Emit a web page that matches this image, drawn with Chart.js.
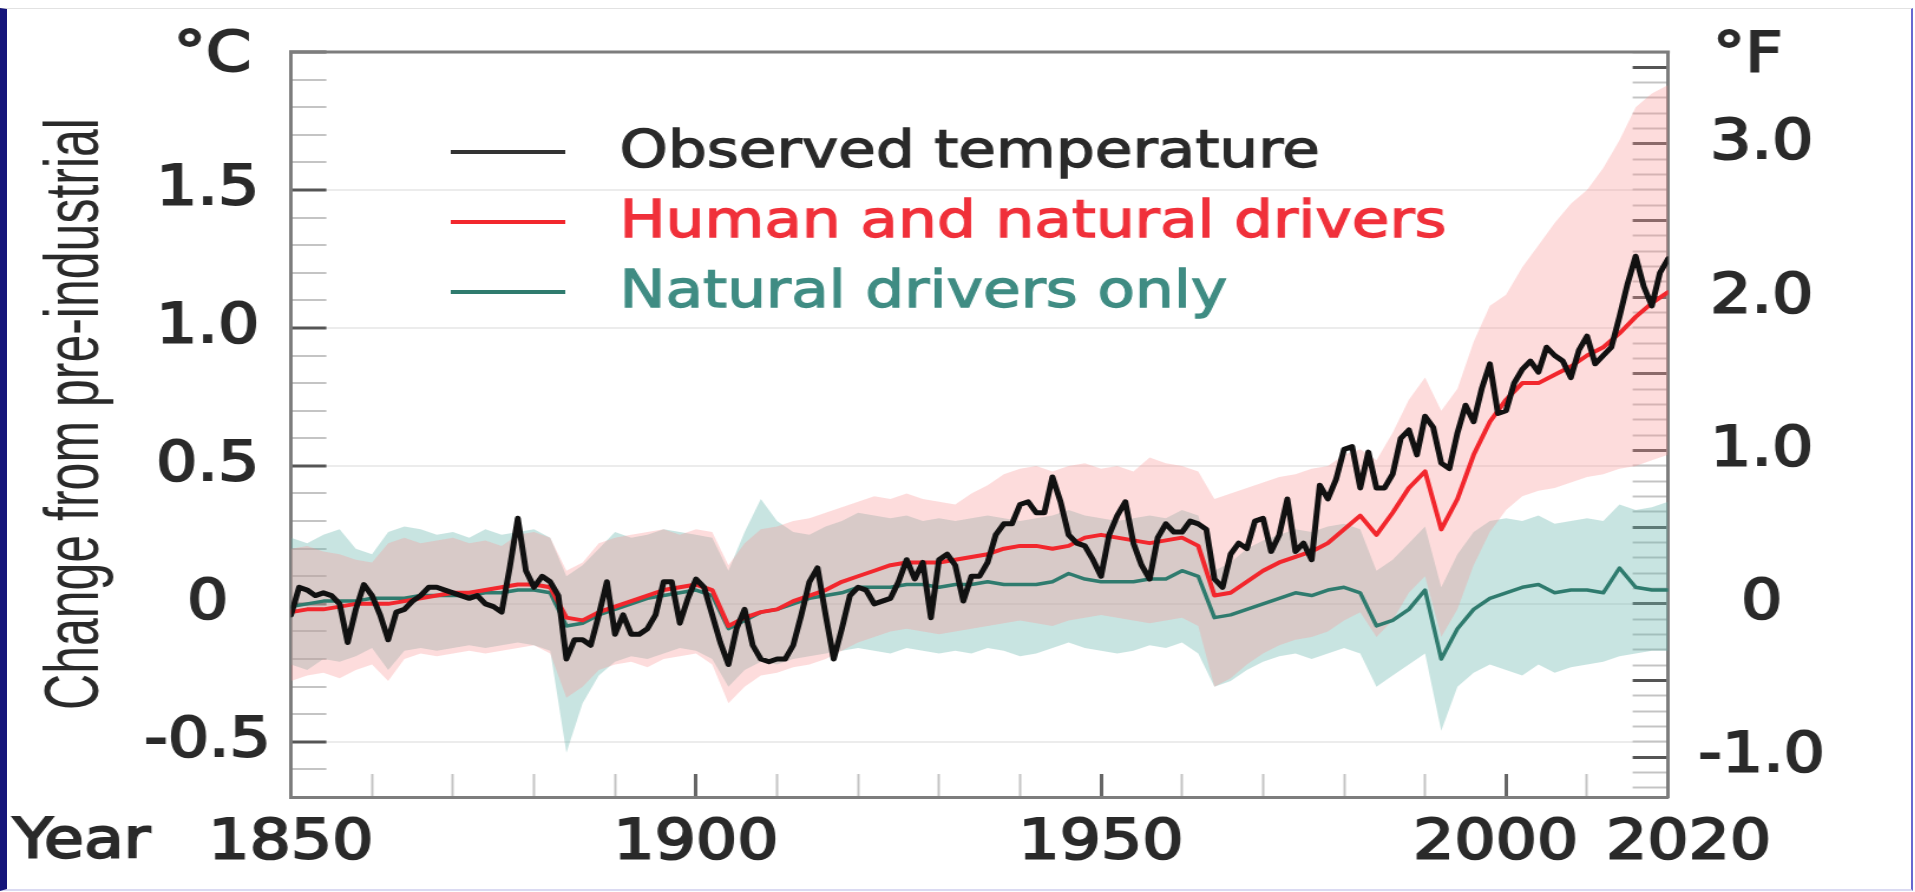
<!DOCTYPE html>
<html lang="en">
<head>
<meta charset="UTF-8">
<title>Change in global surface temperature</title>
<style>
  html, body { margin: 0; padding: 0; background: #fff; overflow: hidden; }
  #frame {
    position: absolute; left: 0; top: 8px; width: 1913px; height: 883px;
    box-sizing: border-box;
    border-top: 1px solid #e2e2e2;
    border-left: 7px solid #15157a;
    border-right: 2px solid #6767d0;
    border-bottom: 2px solid #dadaf2;
  }
  /* the original figure is stretched sideways, so the canvas is too */
  #chart {
    position: absolute; left: 0; top: 0;
    transform: scaleX(1.18); transform-origin: 0 0;
  }
</style>
</head>
<body>
<div id="frame"></div>
<canvas id="chart" width="1623" height="892"></canvas>
<script src="https://cdn.jsdelivr.net/npm/chart.js"></script>
<script>
  // observed yearly values, 1850..2020 (deg C above pre-industrial)
  const obsStart = 1850;
  const observed = [
    -0.04, 0.06, 0.05, 0.03, 0.04, 0.03, 0.00, -0.14, -0.02, 0.07,
    0.03, -0.04, -0.13, -0.03, -0.02, 0.01, 0.03, 0.06, 0.06, 0.05,
    0.04, 0.03, 0.02, 0.03, 0.00, -0.01, -0.03, 0.13, 0.31, 0.12,
    0.06, 0.10, 0.08, 0.03, -0.20, -0.13, -0.13, -0.15, -0.04, 0.08,
    -0.11, -0.04, -0.11, -0.11, -0.09, -0.04, 0.08, 0.08, -0.07, 0.02,
    0.09, 0.06, -0.04, -0.14, -0.22, -0.09, -0.02, -0.15, -0.20, -0.21,
    -0.20, -0.20, -0.15, -0.04, 0.08, 0.13, -0.04, -0.20, -0.09, 0.03,
    0.06, 0.05, 0.00, 0.01, 0.02, 0.08, 0.16, 0.09, 0.15, -0.05,
    0.16, 0.18, 0.14, 0.01, 0.10, 0.10, 0.15, 0.25, 0.29, 0.29,
    0.36, 0.37, 0.33, 0.33, 0.46, 0.37, 0.25, 0.22, 0.21, 0.16,
    0.10, 0.25, 0.32, 0.37, 0.22, 0.14, 0.09, 0.24, 0.29, 0.26,
    0.26, 0.30, 0.29, 0.27, 0.09, 0.06, 0.18, 0.22, 0.20, 0.30,
    0.31, 0.19, 0.25, 0.38, 0.19, 0.22, 0.16, 0.43, 0.38, 0.45,
    0.56, 0.57, 0.42, 0.55, 0.42, 0.42, 0.47, 0.60, 0.63, 0.54,
    0.68, 0.64, 0.51, 0.49, 0.62, 0.72, 0.66, 0.78, 0.87, 0.69,
    0.70, 0.80, 0.85, 0.88, 0.84, 0.93, 0.90, 0.88, 0.82, 0.92,
    0.97, 0.87, 0.90, 0.93, 1.04, 1.16, 1.26, 1.15, 1.08, 1.20,
    1.25
  ];

  // model runs, every 2 years 1850..2020
  const modelStart = 1850;
  const modelStep = 2;
  const humanNatural = [
    -0.03, -0.02, -0.02, -0.01, 0.00, 0.00, 0.00, 0.01, 0.02, 0.03,
    0.04, 0.04, 0.05, 0.06, 0.07, 0.07, 0.06, -0.05, -0.06, -0.03,
    -0.01, 0.01, 0.03, 0.05, 0.06, 0.07, 0.05, -0.08, -0.05, -0.03,
    -0.02, 0.01, 0.03, 0.05, 0.08, 0.10, 0.12, 0.14, 0.15, 0.15,
    0.15, 0.16, 0.17, 0.18, 0.20, 0.21, 0.21, 0.20, 0.21, 0.24,
    0.25, 0.24, 0.23, 0.22, 0.23, 0.24, 0.21, 0.03, 0.04, 0.08,
    0.12, 0.15, 0.17, 0.19, 0.22, 0.27, 0.32, 0.25, 0.33, 0.42,
    0.48, 0.27, 0.38, 0.54, 0.66, 0.74, 0.80, 0.80, 0.83, 0.86,
    0.90, 0.93, 0.98, 1.04, 1.09, 1.13
  ];
  const humanHigh = [
    0.20, 0.21, 0.19, 0.18, 0.16, 0.15, 0.22, 0.24, 0.22, 0.23,
    0.24, 0.22, 0.23, 0.21, 0.25, 0.26, 0.24, 0.12, 0.15, 0.22,
    0.24, 0.25, 0.26, 0.27, 0.25, 0.27, 0.26, 0.14, 0.22, 0.27,
    0.28, 0.30, 0.31, 0.33, 0.35, 0.37, 0.39, 0.38, 0.40, 0.38,
    0.37, 0.36, 0.40, 0.43, 0.47, 0.49, 0.50, 0.48, 0.50, 0.51,
    0.49, 0.50, 0.48, 0.53, 0.51, 0.50, 0.48, 0.38, 0.40, 0.42,
    0.44, 0.46, 0.47, 0.49, 0.50, 0.54, 0.56, 0.52, 0.62, 0.74,
    0.82, 0.70, 0.78, 0.95, 1.08, 1.12, 1.22, 1.30, 1.38, 1.45,
    1.50, 1.58, 1.68, 1.80, 1.85, 1.88
  ];
  const humanLow = [
    -0.28, -0.26, -0.25, -0.27, -0.24, -0.22, -0.28, -0.20, -0.18, -0.19,
    -0.18, -0.17, -0.18, -0.17, -0.16, -0.15, -0.18, -0.34, -0.30, -0.24,
    -0.22, -0.21, -0.23, -0.20, -0.19, -0.18, -0.22, -0.36, -0.30, -0.26,
    -0.25, -0.23, -0.22, -0.20, -0.17, -0.14, -0.12, -0.10, -0.09, -0.10,
    -0.11, -0.10, -0.09, -0.08, -0.07, -0.06, -0.07, -0.08, -0.06, -0.05,
    -0.04, -0.05, -0.06, -0.07, -0.06, -0.05, -0.08, -0.30, -0.27, -0.22,
    -0.18, -0.15, -0.13, -0.12, -0.10, -0.06, -0.03, -0.12, -0.06, 0.04,
    0.10, -0.12, -0.02, 0.14, 0.26, 0.34, 0.39, 0.41, 0.42, 0.44,
    0.46, 0.47, 0.49, 0.50, 0.52, 0.54
  ];
  const naturalOnly = [
    -0.01, 0.00, 0.01, 0.01, 0.01, 0.02, 0.02, 0.02, 0.03, 0.03,
    0.03, 0.03, 0.04, 0.04, 0.05, 0.05, 0.04, -0.08, -0.07, -0.04,
    -0.02, 0.00, 0.02, 0.03, 0.04, 0.05, 0.03, -0.09, -0.06, -0.03,
    -0.02, 0.00, 0.02, 0.03, 0.04, 0.06, 0.06, 0.06, 0.07, 0.07,
    0.06, 0.07, 0.07, 0.08, 0.07, 0.07, 0.07, 0.08, 0.11, 0.09,
    0.08, 0.08, 0.08, 0.09, 0.09, 0.12, 0.10, -0.05, -0.04, -0.02,
    0.00, 0.02, 0.04, 0.03, 0.05, 0.06, 0.04, -0.08, -0.06, -0.02,
    0.05, -0.20, -0.09, -0.02, 0.02, 0.04, 0.06, 0.07, 0.04, 0.05,
    0.05, 0.04, 0.13, 0.06, 0.05, 0.05
  ];
  const naturalHigh = [
    0.24, 0.22, 0.25, 0.27, 0.20, 0.18, 0.26, 0.28, 0.27, 0.25,
    0.26, 0.24, 0.27, 0.25, 0.26, 0.27, 0.24, 0.10, 0.14, 0.20,
    0.26, 0.24, 0.25, 0.27, 0.26, 0.25, 0.24, 0.12, 0.26, 0.38,
    0.30, 0.26, 0.25, 0.28, 0.30, 0.33, 0.32, 0.31, 0.32, 0.30,
    0.31, 0.30, 0.31, 0.32, 0.31, 0.30, 0.31, 0.32, 0.34, 0.32,
    0.31, 0.30, 0.31, 0.32, 0.31, 0.34, 0.32, 0.12, 0.15, 0.20,
    0.23, 0.25, 0.27, 0.26, 0.28, 0.29, 0.27, 0.12, 0.16, 0.22,
    0.28, 0.06, 0.18, 0.26, 0.30, 0.31, 0.30, 0.32, 0.29, 0.30,
    0.31, 0.30, 0.36, 0.34, 0.35, 0.37
  ];
  const naturalLow = [
    -0.22, -0.24, -0.20, -0.21, -0.19, -0.16, -0.24, -0.17, -0.16, -0.17,
    -0.16, -0.15, -0.16, -0.15, -0.14, -0.15, -0.17, -0.54, -0.36, -0.26,
    -0.21, -0.19, -0.20, -0.18, -0.16, -0.17, -0.20, -0.30, -0.24, -0.21,
    -0.22, -0.20, -0.19, -0.18, -0.17, -0.16, -0.17, -0.18, -0.16, -0.17,
    -0.18, -0.17, -0.18, -0.16, -0.17, -0.19, -0.18, -0.16, -0.14, -0.16,
    -0.17, -0.18, -0.17, -0.15, -0.16, -0.14, -0.18, -0.30, -0.28, -0.24,
    -0.21, -0.19, -0.18, -0.20, -0.18, -0.16, -0.18, -0.30, -0.26, -0.22,
    -0.18, -0.46, -0.30, -0.25, -0.22, -0.24, -0.26, -0.22, -0.25, -0.23,
    -0.22, -0.21, -0.19, -0.18, -0.17, -0.17
  ];

  const seriesNames = ['Observed temperature', 'Human and natural drivers', 'Natural drivers only'];
  const celsiusLabels = [-0.5, 0, 0.5, 1.0, 1.5];
  const fahrenheitLabels = [-1, 0, 1, 2, 3];
  const yearLabels = [1850, 1900, 1950, 2000, 2020];
  const unitLabels = ['°C', '°F'];
  const yTitle = 'Change from pre-industrial';
  const xTitle = 'Year';

  const lineColors = ['#111111', '#f2272d', '#2f7b6e'];
  const legendText = ['#2a2a2a', '#f0303a', '#3f8c83'];
  const textColor = '#2a2a2a';
  const frameColor = '#7d7d7d';
  const tickFont = {family: 'DejaVu Sans', size: 55};

  const pts = (start, step, values) => values.map((v, i) => ({x: start + i * step, y: v}));

  const fmt = v => (v === 0 ? '0' : v.toFixed(1));
  const isHalf = v => Math.abs(v * 2 - Math.round(v * 2)) < 1e-6;

  function celsiusTick(value) {
    const v = Math.round(value * 10) / 10;
    return celsiusLabels.some(l => Math.abs(l - v) < 1e-6) ? fmt(v) : '';
  }
  function fahrenheitTick(value) {
    const v = Math.round(value * 10) / 10;
    return fahrenheitLabels.some(l => Math.abs(l - v) < 1e-6) ? fmt(v) : '';
  }
  function yearTick(value) {
    if (!yearLabels.includes(value)) return '';
    // the last two labels sit a bit apart in the original
    if (value === 2000) return '2000 ';
    if (value === 2020) return '  2020';
    return String(value);
  }

  const tickMark = (major, majorColor, minorColor) => ctx => (ctx.tick && major(ctx.tick.value) ? majorColor : minorColor);
  // keep the plot box where the original has it
  const fixWidth = w => s => { s.width = w; s.paddingTop = 0; s.paddingBottom = 0; };

  // top edge of the frame plus text that is not part of an axis
  const decor = {
    id: 'decor',
    afterDraw(chart) {
      const ctx = chart.ctx;
      const area = chart.chartArea;
      ctx.save();
      ctx.strokeStyle = frameColor;
      ctx.lineWidth = 3;
      ctx.beginPath();
      ctx.moveTo(area.left - 1.5, area.top);
      ctx.lineTo(area.right + 1.5, area.top);
      ctx.stroke();

      ctx.fillStyle = textColor;
      ctx.strokeStyle = textColor;
      ctx.lineWidth = 2;
      ctx.font = '55px "DejaVu Sans"';
      ctx.textBaseline = 'middle';
      ctx.textAlign = 'center';
      ctx.strokeText(unitLabels[0], 180, 56);
      ctx.fillText(unitLabels[0], 180, 56);
      ctx.strokeText(unitLabels[1], 1481, 57);
      ctx.fillText(unitLabels[1], 1481, 57);
      ctx.textAlign = 'left';
      ctx.strokeText(xTitle, 11, 843);
      ctx.fillText(xTitle, 11, 843);

      const rows = [152, 222, 292];
      ctx.font = '52px "DejaVu Sans"';
      seriesNames.forEach((name, i) => {
        ctx.strokeStyle = i === 0 ? '#333' : lineColors[i];
        ctx.lineWidth = 4;
        ctx.beginPath();
        ctx.moveTo(382, rows[i]);
        ctx.lineTo(479, rows[i]);
        ctx.stroke();
        ctx.fillStyle = legendText[i];
        ctx.strokeStyle = legendText[i];
        ctx.lineWidth = 1.3;
        ctx.strokeText(name, 525, rows[i] + 1);
        ctx.fillText(name, 525, rows[i] + 1);
      });

      // narrow rotated axis title
      ctx.fillStyle = textColor;
      ctx.translate(83, 414);
      ctx.rotate(-Math.PI / 2);
      ctx.scale(1, 1.3);
      ctx.font = '50px "Liberation Sans"';
      ctx.textAlign = 'center';
      ctx.textBaseline = 'alphabetic';
      ctx.fillText(yTitle, 0, 0);
      ctx.restore();
    }
  };

  new Chart(document.getElementById('chart'), {
    type: 'line',
    data: {
      datasets: [
        {label: seriesNames[0], data: pts(obsStart, 1, observed), borderColor: lineColors[0], borderWidth: 5, order: 1},
        {label: seriesNames[1], data: pts(modelStart, modelStep, humanNatural), borderColor: lineColors[1], borderWidth: 4, order: 2},
        {label: seriesNames[2], data: pts(modelStart, modelStep, naturalOnly), borderColor: lineColors[2], borderWidth: 3.5, order: 3},
        {label: 'human high', data: pts(modelStart, modelStep, humanHigh), borderWidth: 0, borderColor: 'rgba(0,0,0,0)',
         fill: '+1', backgroundColor: 'rgba(250,150,150,0.33)', order: 4},
        {label: 'human low', data: pts(modelStart, modelStep, humanLow), borderWidth: 0, borderColor: 'rgba(0,0,0,0)', order: 5},
        {label: 'natural high', data: pts(modelStart, modelStep, naturalHigh), borderWidth: 0, borderColor: 'rgba(0,0,0,0)',
         fill: '+1', backgroundColor: 'rgba(110,185,175,0.38)', order: 6},
        {label: 'natural low', data: pts(modelStart, modelStep, naturalLow), borderWidth: 0, borderColor: 'rgba(0,0,0,0)', order: 7}
      ]
    },
    options: {
      responsive: false,
      animation: false,
      layout: {padding: {top: 52}},
      elements: {
        point: {radius: 0},
        line: {tension: 0, borderJoinStyle: 'round', borderCapStyle: 'round', fill: false}
      },
      plugins: {legend: {display: false}, tooltip: {enabled: false}},
      scales: {
        x: {
          type: 'linear', position: 'bottom', min: 1850, max: 2020,
          afterFit: s => { s.height = 95; },
          border: {color: frameColor, width: 3},
          grid: {
            drawOnChartArea: false, tickLength: -23,
            tickColor: tickMark(v => v % 50 === 0, '#666', '#c4c4c4'),
            tickWidth: ctx => (ctx.tick && ctx.tick.value % 50 === 0 ? 3 : 2)
          },
          ticks: {stepSize: 10, autoSkip: false, maxRotation: 0, minRotation: 0, padding: 37,
                  color: textColor, textStrokeColor: textColor, textStrokeWidth: 2,
                  font: tickFont, callback: yearTick}
        },
        y: {
          position: 'left', min: -0.7, max: 2.0,
          afterFit: fixWidth(246.6),
          border: {color: frameColor, width: 3},
          grid: {
            color: ctx => (ctx.tick && isHalf(ctx.tick.value) ? '#ececec' : 'rgba(0,0,0,0)'),
            lineWidth: 2, tickLength: -30,
            tickColor: tickMark(isHalf, '#555', '#c4c4c4'),
            tickWidth: ctx => (ctx.tick && isHalf(ctx.tick.value) ? 3 : 2)
          },
          ticks: {stepSize: 0.1, autoSkip: false, crossAlign: 'center', padding: 47,
                  color: textColor, textStrokeColor: textColor, textStrokeWidth: 2,
                  font: tickFont, callback: celsiusTick}
        },
        y2: {
          position: 'right', min: -0.7 * 1.8, max: 2.0 * 1.8,
          afterFit: fixWidth(209.4),
          border: {color: frameColor, width: 3},
          grid: {
            drawOnChartArea: false, tickLength: -30,
            tickColor: tickMark(isHalf, '#555', '#c4c4c4'),
            tickWidth: ctx => (ctx.tick && isHalf(ctx.tick.value) ? 3 : 2)
          },
          ticks: {stepSize: 0.1, includeBounds: false, autoSkip: false, crossAlign: 'center', padding: 55.7,
                  color: textColor, textStrokeColor: textColor, textStrokeWidth: 2,
                  font: tickFont, callback: fahrenheitTick}
        }
      }
    },
    plugins: [decor]
  });
</script>
</body>
</html>
